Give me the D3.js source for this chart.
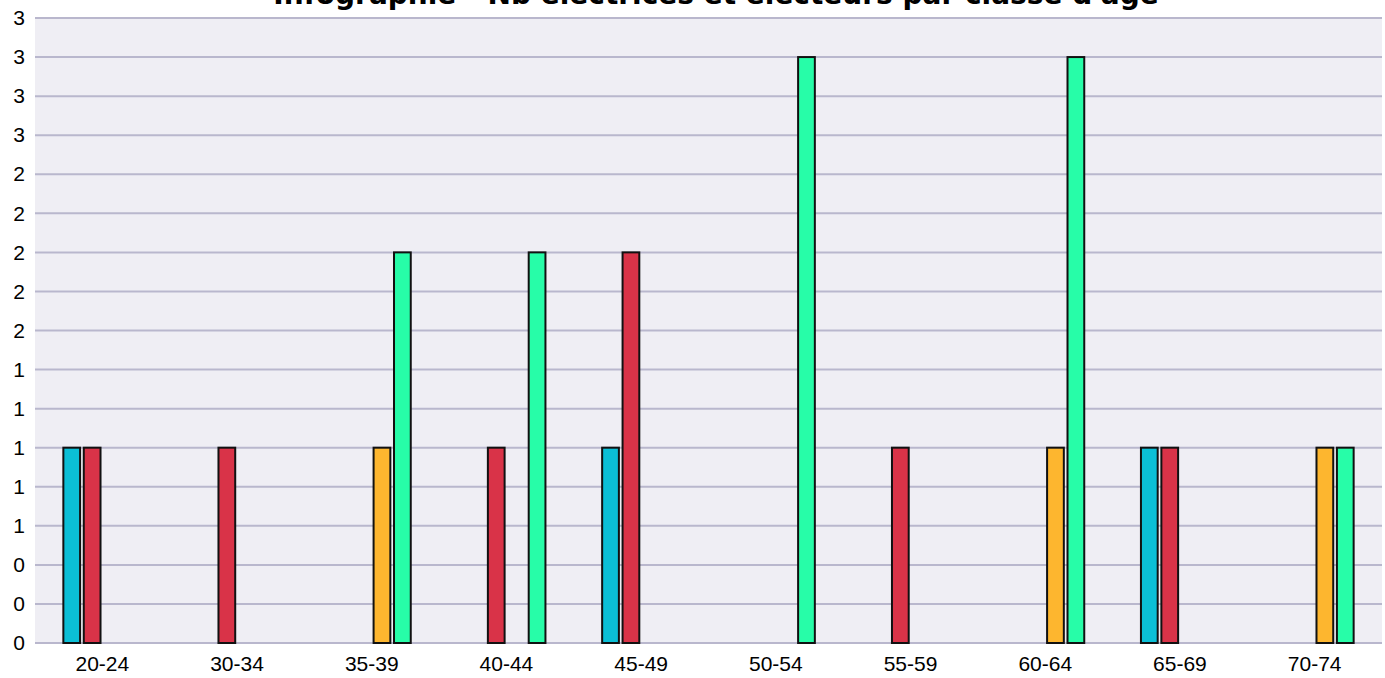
<!DOCTYPE html>
<html>
<head>
<meta charset="utf-8">
<script src="https://cdn.jsdelivr.net/npm/d3@7"></script>
<style>
  body { margin: 0; background: #fff; }
  svg { display: block; }
</style>
</head>
<body>
<div id="chart"></div>
<script>
// classes d'age et series (4 groupes, couleurs dans l'ordre)
var classes = ["20-24", "30-34", "35-39", "40-44", "45-49", "50-54", "55-59", "60-64", "65-69", "70-74"];
var series = ["s1", "s2", "s3", "s4"];
var s1 = [1, 0, 0, 0, 1, 0, 0, 0, 1, 0];
var s2 = [1, 1, 0, 1, 2, 0, 1, 0, 1, 0];
var s3 = [0, 0, 1, 0, 0, 0, 0, 1, 0, 1];
var s4 = [0, 0, 2, 2, 0, 3, 0, 3, 0, 1];
var colors = ["#0bbfd6", "#d93348", "#fdb62f", "#27fda8"];
var yTicks = d3.range(0, 3.21, 0.2);
var title = "Infographie - Nb électrices et électeurs par classe d'âge";

var width = 1385, height = 678;
var margin = {top: 18, right: 3, bottom: 35, left: 35};
var w = width - margin.left - margin.right,
    h = height - margin.top - margin.bottom;

var svg = d3.select("#chart").append("svg")
    .attr("width", width)
    .attr("height", height);

var g = svg.append("g")
    .attr("transform", "translate(" + margin.left + "," + margin.top + ")");

var x0 = d3.scaleBand().domain(classes).range([0, w]);
var x1 = d3.scaleBand().domain(series).range([0, 78]).paddingInner(0.18);
var y = d3.scaleLinear().domain([0, 3.2]).range([h, 0]);

g.append("rect")
    .attr("width", w)
    .attr("height", h)
    .attr("fill", "#efeef4");

// grid
g.selectAll(".grid")
    .data(yTicks)
    .enter().append("line")
    .attr("class", "grid")
    .attr("x1", 0).attr("x2", w)
    .attr("y1", d => y(d)).attr("y2", d => y(d))
    .attr("stroke", "#b9b7cd")
    .attr("stroke-width", 2);

// y axis labels
var yAxis = d3.axisLeft(y).tickValues(yTicks).tickSize(0).tickPadding(10)
    .tickFormat(d => d3.format(".0f")(d));
g.append("g").call(yAxis)
    .attr("font-size", null)
    .attr("font-family", null)
    .call(a => a.select(".domain").remove())
    .selectAll("text")
    .style("font-family", "Liberation Sans, Arial, sans-serif")
    .style("font-size", "21px")
    .attr("fill", "#000");

var xAxis = d3.axisBottom(x0).tickSize(0).tickPadding(13);
g.append("g").attr("transform", "translate(0," + h + ")").call(xAxis)
    .attr("font-size", null)
    .attr("font-family", null)
    .call(a => a.select(".domain").remove())
    .selectAll("text")
    .style("font-family", "Liberation Sans, Arial, sans-serif")
    .style("font-size", "21px")
    .attr("fill", "#000");

var allSeries = [s1, s2, s3, s4];
var rows = classes.map((c, i) => ({
  classe: c,
  vals: series.map((s, j) => ({key: s, idx: j, value: allSeries[j][i]}))
}));

var grp = g.selectAll(".cls")
    .data(rows)
    .enter().append("g")
    .attr("transform", d => "translate(" + (x0(d.classe) + (x0.bandwidth() - 78) / 2) + ",0)");

grp.selectAll("rect")
    .data(d => d.vals.filter(v => v.value > 0))
    .enter().append("rect")
    .attr("x", d => x1(d.key))
    .attr("y", d => y(d.value))
    .attr("width", x1.bandwidth())
    .attr("height", d => h - y(d.value))
    .attr("fill", d => colors[d.idx])
    .attr("stroke", "#111")
    .attr("stroke-width", 2);

svg.append("text")
    .attr("x", 716)
    .attr("y", 4)
    .attr("text-anchor", "middle")
    .style("font-family", "DejaVu Sans, Verdana, sans-serif")
    .style("font-weight", "bold")
    .style("font-size", "28px")
    .attr("fill", "#000")
    .text(title);
</script>
</body>
</html>
